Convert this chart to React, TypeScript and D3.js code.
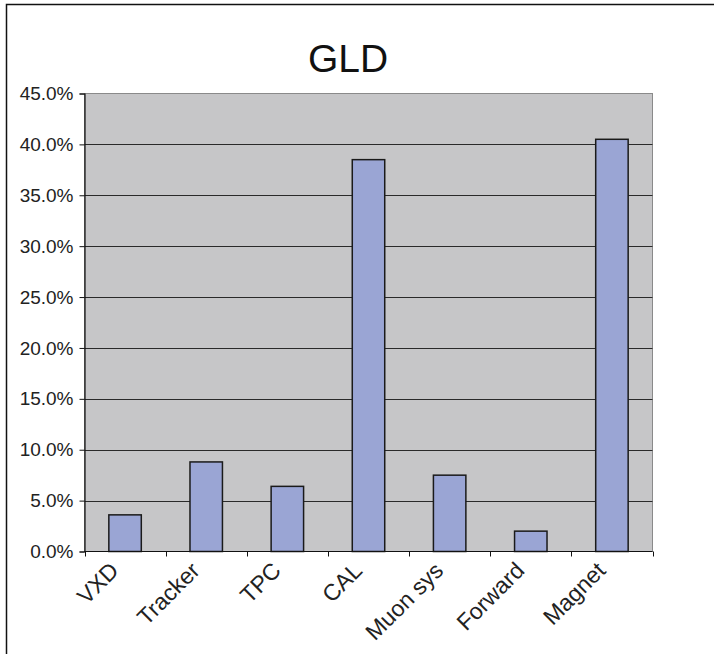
import React, { useEffect, useRef } from 'react';
import * as d3 from 'd3';

const categories = ['VXD', 'Tracker', 'TPC', 'CAL', 'Muon sys', 'Forward', 'Magnet'];
const shares = [3.6, 8.8, 6.4, 38.5, 7.5, 2.0, 40.5];
const yTicks = [0, 5, 10, 15, 20, 25, 30, 35, 40, 45];

const App: React.FC = () => {
  const svgRef = useRef<SVGSVGElement | null>(null);

  useEffect(() => {
    if (!svgRef.current) return;
    const svg = d3.select(svgRef.current);
    svg.selectAll('*').remove();

    const width = 714;
    const height = 654;
    const margin = { top: 93.5, right: 61.5, bottom: 102.5, left: 84.5 };
    const font = 'Arial, "Liberation Sans", sans-serif';

    // outer chart frame (runs off the right and bottom of the picture)
    svg.append('rect')
      .attr('x', 6.5).attr('y', 4.5)
      .attr('width', width + 20).attr('height', height + 20)
      .attr('fill', '#fff')
      .attr('stroke', '#111')
      .attr('stroke-width', 1.5);

    svg.append('text')
      .attr('x', 348).attr('y', 72)
      .attr('text-anchor', 'middle')
      .attr('font-family', font)
      .attr('font-size', 39)
      .attr('fill', '#111')
      .text('GLD');

    const x = d3.scaleBand()
      .domain(categories)
      .range([margin.left, width - margin.right])
      .paddingInner(0)
      .paddingOuter(0);

    const y = d3.scaleLinear()
      .domain([0, 45])
      .range([height - margin.bottom, margin.top]);

    // plot area
    svg.append('rect')
      .attr('x', margin.left).attr('y', margin.top)
      .attr('width', width - margin.right - margin.left)
      .attr('height', height - margin.bottom - margin.top)
      .attr('fill', '#c6c6c8')
      .attr('stroke', '#8a8a8a')
      .attr('stroke-width', 1);

    svg.append('g')
      .selectAll('line')
      .data(yTicks.filter(d => d > 0 && d < 45))
      .join('line')
      .attr('x1', margin.left).attr('x2', width - margin.right)
      .attr('y1', d => Math.round(y(d)) + 0.5).attr('y2', d => Math.round(y(d)) + 0.5)
      .attr('stroke', '#2a2a2a')
      .attr('stroke-width', 1.2);

    const barW = x.bandwidth() / 2.5;
    svg.append('g')
      .selectAll('rect')
      .data(categories.map((c, i) => ({ c, v: shares[i] })))
      .join('rect')
      .attr('x', d => (x(d.c) || 0) + (x.bandwidth() - barW) / 2)
      .attr('y', d => y(d.v))
      .attr('width', barW)
      .attr('height', d => y(0) - y(d.v))
      .attr('fill', '#9aa5d4')
      .attr('stroke', '#1a1a1a')
      .attr('stroke-width', 1.5);

    const yAxis = svg.append('g')
      .attr('transform', `translate(${margin.left},0)`)
      .call(d3.axisLeft(y).tickValues(yTicks).tickSize(5).tickPadding(6)
        .tickFormat(d => `${(+d).toFixed(1)}%`));
    yAxis.select('.domain').attr('stroke', '#111').attr('stroke-width', 1.2);
    yAxis.selectAll('.tick line').attr('stroke', '#111');
    yAxis.selectAll('.tick text')
      .attr('font-family', font)
      .attr('font-size', 19)
      .attr('fill', '#222');

    const xAxis = svg.append('g')
      .attr('transform', `translate(0,${height - margin.bottom})`);
    xAxis.append('line')
      .attr('x1', margin.left).attr('x2', width - margin.right)
      .attr('stroke', '#111').attr('stroke-width', 1.2);
    xAxis.selectAll('.tk')
      .data(categories.concat(['']))
      .join('line')
      .attr('class', 'tk')
      .attr('x1', (d, i) => Math.round(margin.left + i * x.step()) + 0.5)
      .attr('x2', (d, i) => Math.round(margin.left + i * x.step()) + 0.5)
      .attr('y1', 0).attr('y2', 5)
      .attr('stroke', '#111');
    xAxis.selectAll('.lbl')
      .data(categories)
      .join('text')
      .attr('class', 'lbl')
      .attr('transform', d => `translate(${(x(d) || 0) + x.bandwidth() / 2 - 5},20.5) rotate(-45)`)
      .attr('text-anchor', 'end')
      .attr('font-family', font)
      .attr('font-size', 23)
      .attr('fill', '#222')
      .text(d => d);
  }, []);

  return (
    <svg ref={svgRef} width="714" height="654"
      style={{ position: 'absolute', left: 0, top: 0, background: '#fff' }}></svg>
  );
};

export default App;
